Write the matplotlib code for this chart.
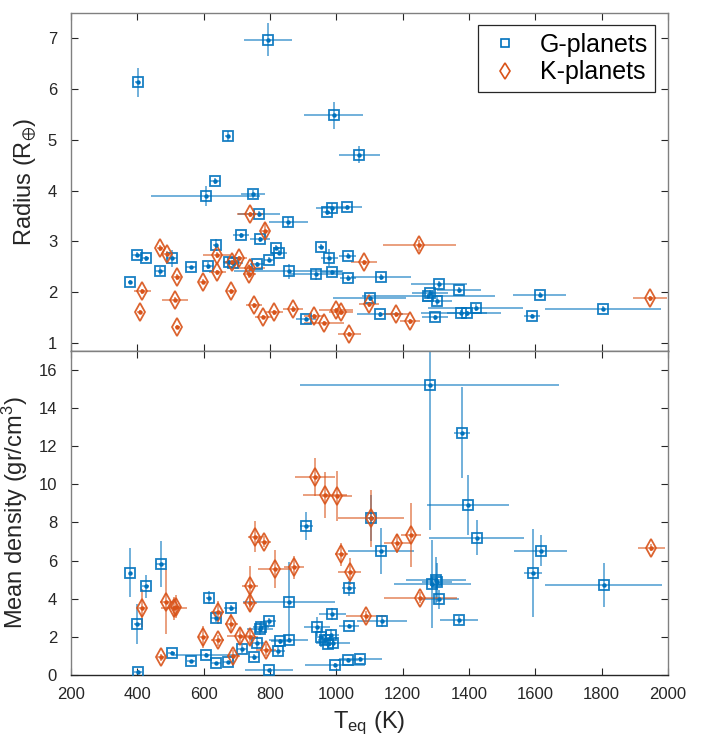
import matplotlib
matplotlib.use("Agg")
import matplotlib.pyplot as plt
from matplotlib.lines import Line2D

plt.rcParams["font.family"] = ["Liberation Sans", "DejaVu Sans"]
plt.rcParams["mathtext.fontset"] = "custom"
plt.rcParams["mathtext.rm"] = "Liberation Sans"
plt.rcParams["mathtext.it"] = "Liberation Sans"
plt.rcParams["mathtext.fallback"] = "stix"

BLUE = "#0072BD"
ORANGE = "#D95319"

# ---- Radius panel: G-type hosts ----
g_teq_r = [795, 401, 992, 672, 1070, 634, 606, 750, 767, 855, 971, 988, 1032, 713,
           770, 636, 400, 425, 818, 827, 954, 979, 1034, 677, 690, 761, 798, 504,
           561, 614, 468, 378, 856, 939, 986, 1036, 1134, 1101, 1132, 910, 1309,
           1370, 1283, 1278, 1303, 1420, 1376, 1395, 1298, 1614, 1590, 1804]
g_rad = [6.97, 6.13, 5.48, 5.08, 4.71, 4.19, 3.90, 3.94, 3.54, 3.39, 3.57, 3.66,
         3.67, 3.12, 3.04, 2.93, 2.74, 2.67, 2.88, 2.78, 2.90, 2.68, 2.72, 2.59,
         2.57, 2.55, 2.64, 2.67, 2.49, 2.52, 2.41, 2.21, 2.41, 2.35, 2.39, 2.28,
         2.30, 1.88, 1.57, 1.48, 2.16, 2.05, 1.99, 1.92, 1.82, 1.70, 1.60, 1.59,
         1.51, 1.95, 1.54, 1.68]
g_teq_r_err = [72, 8, 90, 8, 63, 16, 165, 36, 63, 59, 10, 50, 45, 25, 30, 8, 15,
               10, 10, 25, 10, 25, 25, 20, 30, 20, 15, 15, 15, 15, 15, 5, 165, 80,
               30, 25, 90, 110, 70, 30, 85, 65, 55, 200, 45, 143, 120, 60, 40, 80,
               25, 175]
g_rad_err = [0.33, 0.29, 0.26, 0.10, 0.17, 0.06, 0.20, 0.08, 0.05, 0.10, 0.05,
             0.10, 0.05, 0.05, 0.05, 0.12, 0.05, 0.05, 0.05, 0.05, 0.05, 0.17,
             0.05, 0.05, 0.05, 0.05, 0.05, 0.17, 0.03, 0.07, 0.08, 0.03, 0.15,
             0.10, 0.05, 0.05, 0.05, 0.05, 0.05, 0.03, 0.07, 0.06, 0.05, 0.05,
             0.08, 0.06, 0.05, 0.05, 0.05, 0.05, 0.04, 0.05]

# ---- Radius panel: K-type hosts ----
k_teq_r = [740, 786, 468, 489, 639, 707, 686, 740, 738, 641, 519, 599, 415, 683,
           513, 407, 521, 752, 780, 813, 870, 933, 963, 999, 1014, 1039, 1084,
           1100, 1250, 1180, 1222, 1946]
k_rad = [3.53, 3.21, 2.87, 2.76, 2.74, 2.67, 2.59, 2.47, 2.36, 2.39, 2.30, 2.21,
         2.02, 2.02, 1.85, 1.61, 1.31, 1.74, 1.52, 1.61, 1.67, 1.53, 1.39, 1.65,
         1.61, 1.17, 2.59, 1.76, 2.92, 1.57, 1.43, 1.88]
k_teq_r_err = [40, 12, 10, 12, 40, 25, 25, 45, 20, 25, 12, 12, 25, 15, 40, 8, 8,
               25, 25, 25, 30, 30, 60, 50, 35, 35, 40, 30, 110, 40, 30, 50]
k_rad_err = [0.05, 0.15, 0.06, 0.05, 0.06, 0.05, 0.05, 0.05, 0.08, 0.05, 0.05,
             0.05, 0.05, 0.05, 0.05, 0.04, 0.04, 0.05, 0.04, 0.05, 0.05, 0.05,
             0.04, 0.05, 0.05, 0.04, 0.05, 0.05, 0.10, 0.05, 0.05, 0.05]

# ---- Density panel: G-type hosts ----
g_teq_d = [379, 400, 402, 425, 470, 504, 563, 607, 615, 637, 637, 672, 682, 715,
           753, 761, 770, 773, 798, 798, 824, 829, 856, 857, 910, 942, 953, 966,
           976, 984, 990, 988, 996, 1036, 1073, 1038, 1038, 1104, 1134, 1138,
           1282, 1380, 1398, 1423, 1616, 1592, 1806, 1300, 1290, 1304, 1311, 1371]
g_dens = [5.37, 2.67, 0.16, 4.64, 5.82, 1.15, 0.71, 1.06, 4.06, 0.63, 2.98, 0.66,
          3.50, 1.36, 0.94, 1.67, 2.41, 2.54, 2.81, 0.24, 1.27, 1.76, 1.85, 3.82,
          7.81, 2.54, 1.97, 1.85, 1.64, 2.09, 1.67, 3.19, 0.54, 0.77, 0.85, 4.55,
          2.58, 8.21, 6.48, 2.84, 15.18, 12.71, 8.92, 7.20, 6.52, 5.33, 4.71,
          4.98, 4.76, 4.85, 3.96, 2.89]
g_teq_d_err = [5, 10, 12, 10, 15, 10, 12, 100, 8, 15, 15, 15, 20, 15, 15, 20, 40,
               25, 20, 72, 20, 25, 60, 138, 20, 40, 10, 20, 20, 25, 50, 40, 90,
               30, 65, 20, 30, 10, 100, 75, 390, 24, 124, 144, 80, 27, 175, 90,
               115, 45, 60, 57]
g_dens_err = [1.27, 1.05, 0.10, 0.60, 1.20, 0.10, 0.10, 0.10, 0.35, 0.05, 0.20,
              0.05, 0.15, 0.20, 0.15, 0.30, 0.30, 0.30, 0.20, 0.05, 0.20, 0.15,
              0.10, 2.10, 0.75, 0.50, 0.50, 0.30, 0.30, 0.30, 0.20, 0.30, 0.10,
              0.10, 0.10, 0.40, 0.10, 1.20, 1.20, 0.30, 7.60, 2.40, 1.57, 0.90,
              0.80, 2.30, 1.17, 1.20, 2.30, 1.00, 0.50, 0.20]

# ---- Density panel: K-type hosts ----
k_teq_d = [413, 470, 488, 511, 518, 642, 642, 599, 684, 689, 709, 739, 740, 740,
           755, 782, 788, 815, 873, 936, 966, 1001, 1015, 1040, 1089, 1104, 1184,
           1225, 1253, 1950]
k_dens = [3.50, 0.92, 3.85, 3.50, 3.59, 3.29, 1.81, 1.99, 2.68, 1.01, 2.06, 1.99,
          4.64, 3.80, 7.25, 6.99, 1.32, 5.54, 5.65, 10.39, 9.43, 9.39, 6.33, 5.42,
          3.07, 8.21, 6.90, 7.34, 4.06, 6.68]
k_teq_d_err = [15, 12, 20, 40, 15, 20, 20, 15, 20, 20, 40, 25, 25, 20, 20, 20, 30,
               50, 30, 60, 65, 45, 20, 35, 60, 100, 40, 30, 110, 40]
k_dens_err = [1.0, 0.2, 1.7, 0.6, 0.6, 0.6, 0.3, 0.6, 0.5, 0.3, 0.4, 0.4, 1.05,
              0.5, 0.8, 0.3, 0.3, 1.0, 0.6, 1.0, 1.2, 1.3, 0.6, 0.7, 0.3, 1.5, 0.5,
              1.7, 0.3, 0.2]

x_ticks = [200, 400, 600, 800, 1000, 1200, 1400, 1600, 1800, 2000]
rad_ticks = [1, 2, 3, 4, 5, 6, 7]
dens_ticks = [0, 2, 4, 6, 8, 10, 12, 14, 16]

SQ_MS = 7.0
DM_MS = 8.8


def draw_series(ax, x, y, xe, ye, color, marker, ms):
    ax.errorbar(x, y, xerr=xe, yerr=ye, fmt="none", ecolor=color, alpha=0.6,
                elinewidth=1.3, capsize=0, zorder=2)
    ax.plot(x, y, linestyle="none", marker=marker, ms=ms, mfc="none", mec=color,
            mew=1.3, alpha=0.9, zorder=3)
    ax.plot(x, y, linestyle="none", marker="o", ms=2.2, color=color, zorder=4)


def style_axes(ax):
    ax.set_xlim(200, 2000)
    ax.set_xticks(x_ticks)
    ax.tick_params(direction="in", top=True, right=True, length=5, width=0.8,
                   labelsize=12, colors="#262626")
    ax.tick_params(axis="y", pad=10)
    ax.tick_params(axis="x", pad=9)
    for side in ("left", "right", "top"):
        ax.spines[side].set_color("#808080")
    ax.spines["bottom"].set_color("#262626")
    for s in ax.spines.values():
        s.set_linewidth(1.0)


fig = plt.figure(figsize=(7.03, 7.47), dpi=100)
ax1 = fig.add_axes([0.101, 0.5305, 0.849, 0.4525])
ax2 = fig.add_axes([0.101, 0.0964, 0.849, 0.4341])

draw_series(ax1, g_teq_r, g_rad, g_teq_r_err, g_rad_err, BLUE, "s", SQ_MS)
draw_series(ax1, k_teq_r, k_rad, k_teq_r_err, k_rad_err, ORANGE, "d", DM_MS)
draw_series(ax2, g_teq_d, g_dens, g_teq_d_err, g_dens_err, BLUE, "s", SQ_MS)
draw_series(ax2, k_teq_d, k_dens, k_teq_d_err, k_dens_err, ORANGE, "d", DM_MS)

style_axes(ax1)
style_axes(ax2)
ax1.set_ylim(0.85, 7.5)
ax1.set_yticks(rad_ticks)
ax1.tick_params(labelbottom=False)
ax2.set_ylim(0, 17)
ax2.set_yticks(dens_ticks)

ax1.set_ylabel(r"Radius (R$_{\oplus}$)", fontsize=17, color="#262626", labelpad=6)
ax2.set_ylabel(r"Mean density (gr/cm$^{3}$)", fontsize=17, color="#262626",
               labelpad=6)
ax2.set_xlabel(r"T$_{\mathrm{eq}}$ (K)", fontsize=17, color="#262626", labelpad=5)

handles = [
    Line2D([], [], linestyle="none", marker="s", ms=5.5, mfc="none", mec=BLUE,
           mew=1.2, label="G-planets"),
    Line2D([], [], linestyle="none", marker="d", ms=8, mfc="none", mec=ORANGE,
           mew=1.2, label="K-planets"),
]
leg = ax1.legend(handles=handles, loc="upper right", fontsize=18, frameon=True,
                 fancybox=False, framealpha=1, edgecolor="#262626",
                 borderaxespad=0.5, handlelength=1.5, handletextpad=0.65,
                 labelspacing=0.15, borderpad=0.3)
leg.get_frame().set_linewidth(0.9)

fig.savefig("out.png", dpi=100)
